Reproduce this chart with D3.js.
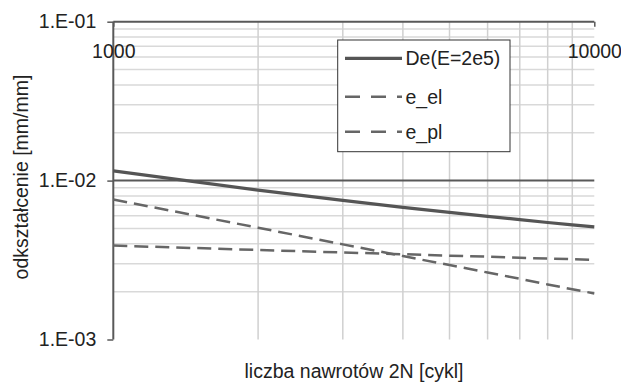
<!DOCTYPE html>
<html><head><meta charset="utf-8">
<script src="https://cdn.jsdelivr.net/npm/d3@7"></script>
<style>
body{margin:0;background:#fff;}
svg{display:block;font-family:"Liberation Sans",Arial,sans-serif;}
</style></head>
<body><svg id="c" width="621" height="383"></svg>
<script>
const cycles = [1000,2000,3000,4000,5000,6000,7000,8000,9000,10000];
const De   = [0.0115,0.00871,0.0075,0.00679,0.00631,0.00596,0.00568,0.00545,0.00527,0.00512];
const e_el = [0.0039,0.00366,0.00353,0.00344,0.00337,0.00332,0.00327,0.00323,0.0032,0.00317];
const e_pl = [0.0076,0.00505,0.00397,0.00335,0.00294,0.00264,0.00241,0.00222,0.00207,0.00195];
const seriesNames = ["De(E=2e5)","e_el","e_pl"];
const xTickValues = [1000,10000];
const xTickLabels = ["1000","10000"];
const yTickValues = [0.1,0.01,0.001];
const yTickLabels = ["1.E-01","1.E-02","1.E-03"];
const xTitle = "liczba nawrotów 2N [cykl]";
const yTitle = "odkształcenie [mm/mm]";

const FS = "19.5px";
const svg = d3.select("#c");
const L=113.3, R=594.3, T=21.7, B=339.5;
const x = d3.scaleLog().domain([1000,10000]).range([L,R]);
const y = d3.scaleLog().domain([0.001,0.1]).range([B,T]);

// minor horizontal grid
const minorY = [];
[0.001,0.01].forEach(d=>{for(let k=2;k<=9;k++) minorY.push(d*k);});
svg.append("g").selectAll("line").data(minorY).join("line")
  .attr("x1",L).attr("x2",R).attr("y1",d=>y(d)).attr("y2",d=>y(d))
  .attr("stroke","#d9d9d9").attr("stroke-width",1.5);
// vertical grid
const minorX = [];
for(let k=2;k<=9;k++) minorX.push(1000*k);
svg.append("g").selectAll("line").data(minorX).join("line")
  .attr("x1",d=>x(d)).attr("x2",d=>x(d)).attr("y1",T).attr("y2",B)
  .attr("stroke","#d0d0d0").attr("stroke-width",1.5);
// major horizontal lines
svg.append("g").selectAll("line").data([0.1,0.01]).join("line")
  .attr("x1",L).attr("x2",R).attr("y1",d=>y(d)).attr("y2",d=>y(d))
  .attr("stroke","#595959").attr("stroke-width",2);

// y axis
const yAx = svg.append("g").attr("transform",`translate(${L},0)`)
  .call(d3.axisLeft(y).tickValues(yTickValues).tickSize(6).tickPadding(11)
    .tickFormat((d,i)=>yTickLabels[i]));
yAx.select(".domain").attr("stroke","#595959").attr("stroke-width",2).attr("d",`M0,${T}V${B}`);
yAx.selectAll(".tick line").attr("stroke","#595959").attr("stroke-width",1.5);
yAx.selectAll("text").attr("font-size",FS).attr("fill","#222").attr("font-family","Liberation Sans, Arial, sans-serif");

// x axis (at top, labels below)
const xAx = svg.append("g").attr("transform",`translate(0,${T})`)
  .call(d3.axisBottom(x).tickValues(xTickValues).tickSize(5)
    .tickFormat((d,i)=>xTickLabels[i]));
xAx.select(".domain").remove();
xAx.selectAll(".tick line").attr("stroke","#595959").attr("stroke-width",1.5);
xAx.selectAll("text").attr("y",36.5).attr("dy",0).attr("font-size",FS).attr("fill","#222")
  .attr("font-family","Liberation Sans, Arial, sans-serif");

// series
const line = d3.line().x((d,i)=>x(cycles[i])).y(d=>y(d));
svg.append("path").datum(e_el).attr("d",line).attr("fill","none")
  .attr("stroke","#666").attr("stroke-width",2.5).attr("stroke-dasharray","14,7");
svg.append("path").datum(e_pl).attr("d",line).attr("fill","none")
  .attr("stroke","#666").attr("stroke-width",2.5).attr("stroke-dasharray","14,7");
svg.append("path").datum(De).attr("d",line).attr("fill","none")
  .attr("stroke","#555").attr("stroke-width",3.2);

// legend
const lg = svg.append("g");
lg.append("rect").attr("x",337.7).attr("y",40).attr("width",172.3).attr("height",111.7)
  .attr("fill","#fff").attr("stroke","#333").attr("stroke-width",1);
const rows=[58.3,96.7,131.7];
seriesNames.forEach((n,i)=>{
  lg.append("line").attr("x1",345).attr("x2",402).attr("y1",rows[i]).attr("y2",rows[i])
    .attr("stroke",i===0?"#555":"#666").attr("stroke-width",i===0?3.2:2.5)
    .attr("stroke-dasharray",i===0?null:"15,11");
  lg.append("text").attr("x",405.5).attr("y",rows[i]).attr("dy","0.35em")
    .attr("font-size",FS).attr("fill","#222").text(n);
});

// titles
svg.append("text").attr("x",354).attr("y",378).attr("text-anchor","middle")
  .attr("font-size",FS).attr("fill","#222").text(xTitle);
svg.append("text").attr("transform","translate(28,177) rotate(-90)").attr("text-anchor","middle")
  .attr("font-size",FS).attr("fill","#222").text(yTitle);
</script></body></html>
